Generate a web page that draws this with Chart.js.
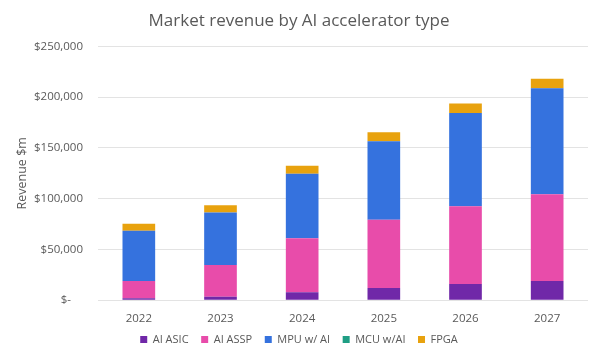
<!DOCTYPE html>
<html>
<head>
<meta charset="utf-8">
<script src="https://cdn.jsdelivr.net/npm/chart.js@4"></script>
<style>
html,body{margin:0;padding:0;background:#fff;}
#wrap{position:relative;width:599px;height:357px;}
</style>
</head>
<body>
<div id="wrap"><canvas id="c" width="599" height="357"></canvas></div>
<script>
const categories = ["2022","2023","2024","2025","2026","2027"];
const aiAsic   = [2000, 3300, 7900, 11900, 15900, 18800];
const aiAssp   = [16900, 31400, 53200, 67400, 76700, 85600];
const mpuWAi   = [49600, 51600, 63500, 77300, 91900, 104400];
const mcuWAi   = [0, 0, 0, 0, 0, 0];
const fpga     = [6900, 7300, 7900, 8900, 9300, 9300];
const yTicks   = [0, 50000, 100000, 150000, 200000, 250000];

const FONT = "'Open Sans', 'Noto Sans', sans-serif";
const grey = "#595959";

function ds(label, data, color){
  return {label, data, backgroundColor: color, borderWidth: 0,
          barPercentage: 0.4, categoryPercentage: 1.0};
}

new Chart(document.getElementById('c'), {
  type: 'bar',
  data: {
    labels: categories,
    datasets: [
      ds("AI ASIC", aiAsic, "#7028A8"),
      ds("AI ASSP", aiAssp, "#E84CAA"),
      ds("MPU w/ AI", mpuWAi, "#3572DE"),
      ds("MCU w/AI", mcuWAi, "#1F9E84"),
      ds("FPGA", fpga, "#E8A20E")
    ]
  },
  options: {
    responsive: false,
    animation: false,
    layout: {padding: {left: 10, right: 11, top: 9, bottom: 2}},
    plugins: {
      title: {display: true, text: "Market revenue by AI accelerator type",
              color: grey, font: {family: FONT, size: 17, weight: 'normal'},
              padding: {top: 2, bottom: 15}},
      legend: {position: 'bottom',
               labels: {color: grey, font: {family: FONT, size: 11},
                        boxWidth: 7, boxHeight: 7, padding: 4,
                        generateLabels: (chart) => {
                          const items = Chart.defaults.plugins.legend.labels.generateLabels(chart);
                          items.forEach((it, i) => { if (i < items.length - 1) it.text = it.text + "   "; });
                          return items;
                        }}},
      tooltip: {enabled: false}
    },
    scales: {
      x: {stacked: true,
          grid: {display: false},
          border: {display: false},
          ticks: {color: grey, font: {family: FONT, size: 11.5}, padding: 4}},
      y: {stacked: true, min: 0, max: 250000,
          afterBuildTicks: (s) => { s.ticks = yTicks.map(v => ({value: v})); },
          afterFit: (s) => { s.width = 88; },
          grid: {color: "#e3e3e3", drawTicks: false},
          border: {display: false},
          title: {display: true, text: "Revenue $m", color: grey,
                  font: {family: FONT, size: 12.5}, padding: {top: 5, bottom: 0}},
          ticks: {color: grey, font: {family: FONT, size: 11.5}, padding: 15,
                  callback: (v) => v === 0 ? "$-    " : "$" + v.toLocaleString('en-US')}}
    }
  }
});
</script>
</body>
</html>
